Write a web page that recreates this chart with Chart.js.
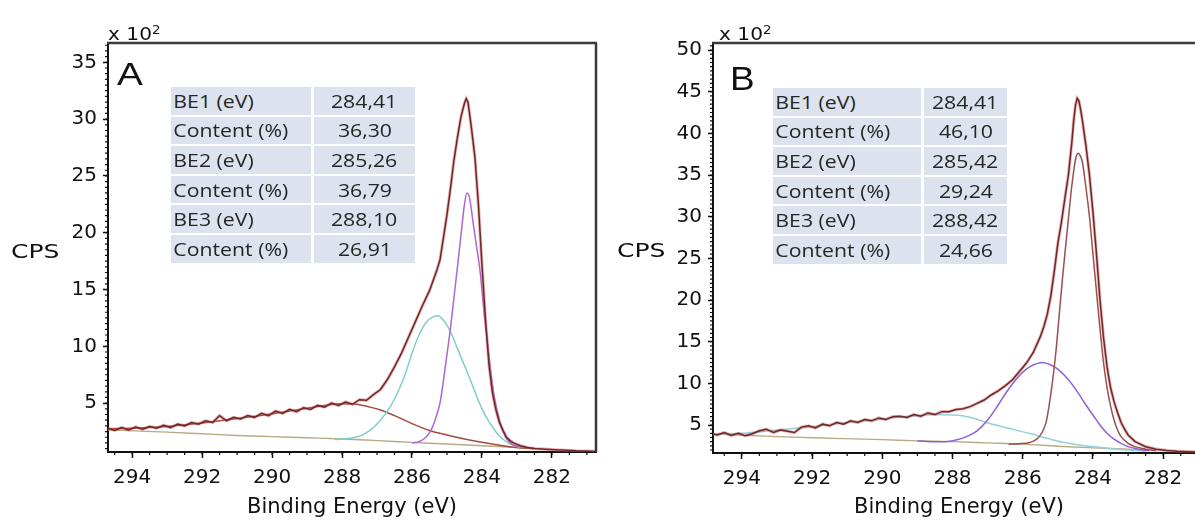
<!DOCTYPE html>
<html>
<head>
<meta charset="utf-8">
<script src="https://cdn.jsdelivr.net/npm/chart.js@4.4.1/dist/chart.umd.min.js"></script>
<style>
  html, body { margin:0; padding:0; background:#fff; width:1195px; height:521px; overflow:hidden; }
  .abs { position:absolute; white-space:nowrap; color:#111; }
  .mult { font-family:"DejaVu Sans"; font-size:18px; line-height:18px; transform:scaleX(1.12); transform-origin:left top; }
  .mult sup { font-size:12px; position:relative; top:-4px; vertical-align:top; }
  .letter { font-family:"Liberation Sans"; line-height:1; transform-origin:left top; }
  .cps { font-family:"DejaVu Sans"; font-size:20px; line-height:20px; transform:scaleX(1.25); transform-origin:left top; }
  .tbl { position:absolute; font-family:"Open Sans"; color:#262626; }
  .row { display:flex; height:27.6px; margin-bottom:2px; }
  .cell { background:#dde3ee; height:100%; display:flex; align-items:center; overflow:visible; }
  .cell span { display:inline-block; font-size:18px; transform:scaleX(1.18); }
  .c1 span { transform-origin:left center; padding-left:2px; }
  .c2 { justify-content:center; margin-left:3px; }
  .c2 span { transform-origin:center center; }
</style>
</head>
<body>
<canvas id="chartA" width="600" height="521" style="position:absolute;left:0;top:0;width:600px;height:521px"></canvas>
<canvas id="chartB" width="605" height="521" style="position:absolute;left:605px;top:0;width:605px;height:521px"></canvas>

<div class="abs mult" style="left:108px;top:25px">x 10<sup>2</sup></div>
<div class="abs mult" style="left:719px;top:25px">x 10<sup>2</sup></div>
<div class="abs letter" style="left:117px;top:59px;font-size:31px;transform:scaleX(1.25)">A</div>
<div class="abs letter" style="left:730px;top:62px;font-size:33px;transform:scaleX(1.12)">B</div>
<div class="abs cps" style="left:11px;top:241px">CPS</div>
<div class="abs cps" style="left:617px;top:240px">CPS</div>
<div id="tableA" class="tbl" style="left:171px;top:87px"></div>
<div id="tableB" class="tbl" style="left:773px;top:88px"></div>

<script>
// ---------- data (intensities in units of 10^2 CPS) ----------
const TABLE_LABELS = ['BE1 (eV)', 'Content (%)', 'BE2 (eV)', 'Content (%)', 'BE3 (eV)', 'Content (%)'];
const A_TABLE_VALUES = ['284,41', '36,30', '285,26', '36,79', '288,10', '26,91'];
const B_TABLE_VALUES = ['284,41', '46,10', '285,42', '29,24', '288,42', '24,66'];

const X_TICKS = [294, 292, 290, 288, 286, 284, 282];
const A_Y_TICKS = [5, 10, 15, 20, 25, 30, 35];
const B_Y_TICKS = [5, 10, 15, 20, 25, 30, 35, 40, 45, 50];

// Panel A — measured envelope
const A_ENV_E = [294.7,294.5,294.3,294.1,293.9,293.7,293.5,293.3,293.1,292.9,292.7,292.5,292.3,292.1,291.9,291.7,291.5,291.3,291.1,290.9,290.7,290.5,290.3,290.1,289.9,289.7,289.5,289.3,289.1,288.9,288.7,288.5,288.3,288.1,287.9,287.7,287.5,287.3,287.1,286.9,286.7,286.5,286.3,286.1,285.9,285.7,285.5,285.3,285.2,285.1,285.0,284.9,284.8,284.7,284.6,284.5,284.45,284.4,284.3,284.2,284.1,284.0,283.9,283.8,283.7,283.6,283.5,283.4,283.3,283.2,283.1,282.9,282.7,282.5,282.2,281.9,281.6,281.3,281.0,280.7];
const A_ENV_V = [2.8,2.6,2.85,2.65,2.9,2.7,2.95,2.8,3.05,2.85,3.15,3.0,3.3,3.15,3.45,3.3,3.9,3.45,3.75,3.6,3.9,3.75,4.1,3.9,4.3,4.1,4.45,4.25,4.6,4.45,4.8,4.65,5.0,4.8,5.1,4.9,5.3,5.25,5.75,6.2,7.1,8.2,9.4,10.8,12.2,13.6,14.9,16.6,17.6,19.6,21.6,23.9,26.4,28.4,30.2,31.4,31.8,31.5,29.2,26.6,22.4,17.2,12.4,8.4,5.9,4.4,3.3,2.6,2.0,1.7,1.5,1.25,1.1,1.0,0.95,0.9,0.85,0.8,0.78,0.75];
// Panel A — component 1 (284.41 eV)
const A_C1_E = [286.0,285.8,285.6,285.5,285.4,285.3,285.2,285.1,285.0,284.9,284.8,284.7,284.6,284.5,284.43,284.35,284.25,284.15,284.05,283.95,283.85,283.75,283.65,283.5,283.4,283.3,283.15,283.0,282.8];
const A_C1_V = [1.5,1.6,2.0,2.4,3.0,3.9,5.0,7.0,9.3,11.6,14.3,17.0,19.8,22.5,23.5,23.0,20.8,18.7,16.5,13.3,10.6,7.8,5.6,3.5,2.6,1.9,1.4,1.2,1.1];
// Panel A — component 2 (285.26 eV)
const A_C2_E = [288.2,287.8,287.5,287.2,286.9,286.6,286.4,286.2,286.0,285.8,285.6,285.4,285.26,285.1,284.9,284.7,284.5,284.3,284.1,283.9,283.7,283.5,283.3,283.1,282.9];
const A_C2_V = [1.8,1.9,2.1,2.6,3.5,4.8,6.0,7.5,9.4,11.0,12.1,12.6,12.7,12.3,11.3,9.8,8.3,6.8,5.2,3.9,2.9,2.1,1.6,1.3,1.1];
// Panel A — component 3 (288.10 eV)
const A_C3_E = [294.7,294.0,293.0,292.0,291.0,290.0,289.5,289.0,288.5,288.0,287.6,287.2,286.9,286.5,286.0,285.5,285.0,284.5,284.0,283.5,283.0,282.5];
const A_C3_V = [2.75,2.8,2.95,3.25,3.65,4.05,4.3,4.55,4.8,4.95,4.9,4.65,4.4,3.9,3.2,2.6,2.2,1.85,1.55,1.3,1.1,1.0];
// Panel A — background
const A_BG_E = [294.7,293.0,292.0,291.0,290.0,289.0,288.0,287.0,286.0,285.0,284.0,283.0,282.5];
const A_BG_V = [2.65,2.45,2.3,2.15,2.05,1.95,1.85,1.7,1.55,1.4,1.25,1.1,1.0];

// Panel B — measured envelope
const B_ENV_E = [294.9,294.7,294.5,294.3,294.1,293.9,293.7,293.5,293.3,293.1,292.9,292.7,292.5,292.3,292.1,291.9,291.7,291.5,291.3,291.1,290.9,290.7,290.5,290.3,290.1,289.9,289.7,289.5,289.3,289.1,288.9,288.7,288.5,288.3,288.1,287.9,287.7,287.5,287.3,287.1,286.9,286.7,286.5,286.3,286.1,285.9,285.7,285.5,285.4,285.3,285.2,285.1,285.0,284.9,284.8,284.7,284.6,284.55,284.5,284.45,284.4,284.35,284.3,284.2,284.1,284.0,283.9,283.8,283.7,283.6,283.5,283.4,283.3,283.2,283.1,283.0,282.8,282.5,282.2,281.9,281.6,281.3,281.0,280.7];
const B_ENV_V = [4.0,3.8,4.1,3.75,4.0,3.7,3.95,4.3,4.5,4.1,4.4,4.25,4.1,4.75,4.9,4.65,5.1,4.9,5.3,5.1,5.5,5.3,5.65,5.5,5.85,5.65,6.0,6.05,5.9,6.25,6.05,6.45,6.25,6.6,6.6,6.85,6.95,7.2,7.6,8.0,8.6,9.1,9.7,10.4,11.4,12.4,13.7,15.6,16.8,18.3,20.5,23.5,26.8,29.3,32.2,35.0,39.0,41.5,43.3,44.2,43.9,42.8,41.5,38.5,35.0,30.5,25.5,20.0,15.5,12.0,9.5,7.8,6.5,5.3,4.5,3.8,3.0,2.4,2.1,1.95,1.85,1.8,1.75,1.7];
// Panel B — component 1 (284.41 eV)
const B_C1_E = [286.4,286.1,285.8,285.6,285.45,285.33,285.25,285.16,285.05,284.97,284.87,284.77,284.67,284.6,284.5,284.42,284.35,284.3,284.2,284.1,284.0,283.9,283.8,283.7,283.6,283.5,283.4,283.3,283.2,283.0,282.8,282.5,282.2];
const B_C1_V = [2.7,2.75,2.9,3.3,4.1,5.4,7.3,10.0,14.0,17.8,22.5,26.8,31.0,33.8,36.8,37.6,37.2,36.5,33.5,30.0,25.5,21.0,16.5,12.5,9.5,7.3,5.6,4.4,3.6,2.8,2.4,2.1,1.9];
// Panel B — component 2 (285.42 eV)
const B_C2_E = [289.0,288.5,288.2,287.9,287.6,287.3,287.0,286.7,286.47,286.3,286.1,285.9,285.7,285.45,285.2,285.0,284.8,284.6,284.4,284.2,284.0,283.8,283.6,283.4,283.2,283.0,282.7,282.4];
const B_C2_V = [3.1,3.0,3.0,3.2,3.6,4.3,5.6,7.4,8.9,9.9,10.9,11.7,12.2,12.5,12.2,11.7,10.9,9.9,8.7,7.4,6.2,5.0,4.0,3.3,2.8,2.4,2.1,1.9];
// Panel B — component 3 (288.42 eV)
const B_C3_E = [294.9,294.0,293.0,292.0,291.0,290.0,289.5,289.0,288.5,288.0,287.72,287.4,286.96,286.4,285.82,285.3,284.88,284.4,283.9,283.46,283.0,282.5];
const B_C3_V = [3.9,4.0,4.4,4.8,5.3,5.7,5.95,6.1,6.25,6.2,6.1,5.8,5.2,4.6,4.0,3.4,2.95,2.6,2.35,2.15,2.0,1.85];
// Panel B — background
const B_BG_E = [294.9,293.0,291.4,290.0,289.0,288.0,287.0,286.0,285.0,284.0,283.0,282.5];
const B_BG_V = [3.95,3.6,3.4,3.25,3.1,3.0,2.85,2.7,2.45,2.25,2.1,2.0];

// ---------- helpers ----------
function pts(E, V) { return E.map((e, i) => ({ x: e, y: V[i] })); }

function buildTable(id, labels, values, w1, w2) {
  const host = document.getElementById(id);
  labels.forEach((lab, i) => {
    const row = document.createElement('div'); row.className = 'row';
    const a = document.createElement('div'); a.className = 'cell c1'; a.style.width = w1 + 'px';
    a.innerHTML = '<span>' + lab + '</span>';
    const b = document.createElement('div'); b.className = 'cell c2'; b.style.width = w2 + 'px';
    b.innerHTML = '<span>' + values[i] + '</span>';
    row.appendChild(a); row.appendChild(b); host.appendChild(row);
  });
}
buildTable('tableA', TABLE_LABELS, A_TABLE_VALUES, 140, 101);
buildTable('tableB', TABLE_LABELS, B_TABLE_VALUES, 148, 83);

const framePlugin = {
  id: 'frame',
  afterDraw(chart, args, opts) {
    const { ctx, chartArea: { left, top, right, bottom } } = chart;
    const xs = chart.scales.x, ys = chart.scales.y;
    ctx.save();
    ctx.strokeStyle = '#3a3a3a';
    ctx.lineWidth = 2.5;
    ctx.beginPath();
    ctx.moveTo(left - 1, top); ctx.lineTo(right + 1, top);
    if (opts.right) { ctx.moveTo(right, top); ctx.lineTo(right, bottom); }
    ctx.stroke();
    ctx.strokeStyle = '#111';
    ctx.lineWidth = 1.2;
    ctx.beginPath();
    for (let v = Math.ceil(xs.min / opts.xMinor) * opts.xMinor; v <= xs.max; v += opts.xMinor) {
      const p = xs.getPixelForValue(v);
      ctx.moveTo(p, bottom); ctx.lineTo(p, bottom + 3);
    }
    for (let v = Math.ceil(ys.min / opts.yMinor) * opts.yMinor; v <= ys.max; v += opts.yMinor) {
      const p = ys.getPixelForValue(v);
      ctx.moveTo(left, p); ctx.lineTo(left - 3, p);
    }
    ctx.stroke();
    ctx.restore();
  }
};

function makeChart(id, cfg) {
  const lineDs = (data, color, width, extra) => Object.assign({
    data, borderColor: color, borderWidth: width, pointRadius: 0, fill: false,
    cubicInterpolationMode: 'monotone'
  }, extra || {});
  // Chart.js paints dataset 0 last (on top): envelope first, background last.
  const datasets = [
    lineDs(cfg.env, cfg.colors.env, 1.5, { tension: 0, cubicInterpolationMode: 'default' }),
    lineDs(cfg.env, 'rgba(215,90,90,0.45)', 3.2, { tension: 0, cubicInterpolationMode: 'default' }),
    lineDs(cfg.c1, cfg.colors.c1, 1.5),
    lineDs(cfg.c2, cfg.colors.c2, 1.5),
    lineDs(cfg.c3, cfg.colors.c3, 1.5),
    lineDs(cfg.bg, cfg.colors.bg, 1.4)
  ];
  return new Chart(document.getElementById(id), {
    type: 'line',
    data: { datasets },
    plugins: [framePlugin],
    options: {
      responsive: false,
      animation: false,
      events: [],
      layout: { padding: { top: 43, right: cfg.padRight, left: 0, bottom: 0 } },
      plugins: {
        legend: { display: false },
        tooltip: { enabled: false },
        frame: { right: cfg.rightBorder, xMinor: 0.5, yMinor: cfg.yMinor }
      },
      scales: {
        x: {
          type: 'linear', reverse: true, min: cfg.xMin, max: cfg.xMax,
          afterBuildTicks: s => { s.ticks = X_TICKS.map(v => ({ value: v })); },
          afterFit: s => { s.height = cfg.xHeight; },
          grid: { display: true, drawOnChartArea: false, drawTicks: true, tickLength: 6, tickColor: '#111', tickWidth: 1.5 },
          border: { display: true, color: '#111', width: 2 },
          ticks: { font: { family: 'DejaVu Sans', size: 20 }, color: '#111', padding: 8, maxRotation: 0, autoSkip: false, callback: v => String(v) },
          title: { display: true, text: 'Binding Energy (eV)', font: { family: 'DejaVu Sans', size: 21 }, color: '#111', padding: { top: 0, bottom: 1 } }
        },
        y: {
          type: 'linear', min: cfg.yMin, max: cfg.yMax,
          afterBuildTicks: s => { s.ticks = cfg.yTicks.map(v => ({ value: v })); },
          afterFit: s => { s.width = 108; },
          grid: { display: true, drawOnChartArea: false, drawTicks: true, tickLength: 5, tickColor: '#111', tickWidth: 1.5 },
          border: { display: true, color: '#111', width: 2 },
          ticks: { font: { family: 'DejaVu Sans', size: 20 }, color: '#111', padding: 6, autoSkip: false, callback: v => String(v) }
        }
      }
    }
  });
}

makeChart('chartA', {
  env: pts(A_ENV_E, A_ENV_V), c1: pts(A_C1_E, A_C1_V), c2: pts(A_C2_E, A_C2_V), c3: pts(A_C3_E, A_C3_V), bg: pts(A_BG_E, A_BG_V),
  colors: { env: '#6a2828', c1: '#b065d2', c2: '#7fd0c8', c3: '#a44a40', bg: '#b8aa84' },
  xMin: 280.74, xMax: 294.69, yMin: 0.7, yMax: 36.7, yTicks: A_Y_TICKS, yMinor: 0.5,
  xHeight: 69, padRight: 4, rightBorder: true
});
makeChart('chartB', {
  env: pts(B_ENV_E, B_ENV_V), c1: pts(B_C1_E, B_C1_V), c2: pts(B_C2_E, B_C2_V), c3: pts(B_C3_E, B_C3_V), bg: pts(B_BG_E, B_BG_V),
  colors: { env: '#6a2828', c1: '#9c4f4f', c2: '#8a62d6', c3: '#8fd2dc', bg: '#b8aa84' },
  xMin: 280.81, xMax: 294.82, yMin: 1.64, yMax: 50.84, yTicks: B_Y_TICKS, yMinor: 0.5,
  xHeight: 68, padRight: 5, rightBorder: false
});
</script>
</body>
</html>
